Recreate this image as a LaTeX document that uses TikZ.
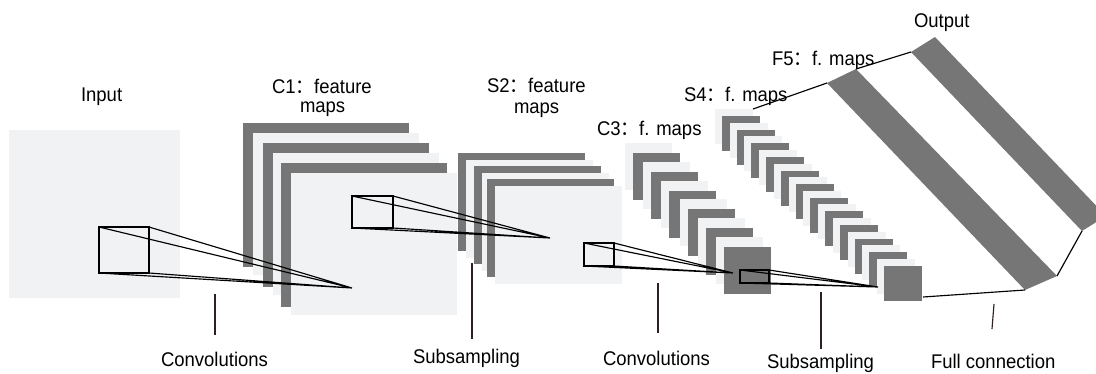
\documentclass[tikz,border=0pt]{standalone}
\usepackage{fontspec}
\setmainfont{Liberation Sans}
\newfontfamily\cjk{Noto Sans CJK SC}
\newcommand\fwc{{\cjk ：}}
\newcommand\tall[1]{\scalebox{1}[1.07]{#1}}
\definecolor{mapdark}{RGB}{118,118,118}
\definecolor{maplight}{RGB}{240,242,243}
\definecolor{tickcol}{RGB}{45,32,30}

% filled map sheet: #1 colour, (#2,#3) top-left corner, #4 x #5 size
\newcommand\sheet[5]{\fill[#1] (#2,#3) rectangle ++(#4,#5);}
% receptive field box with rays to its target point
\newcommand\rfield[7]{%
  \coordinate (#1nw) at (#2,#3);
  \coordinate (#1ne) at (#4,#3);
  \coordinate (#1sw) at (#2,#5);
  \coordinate (#1se) at (#4,#5);
  \coordinate (#1tip) at (#6,#7);
  \draw[field] (#1nw) rectangle (#1se);
  \draw[field] (#1nw) -- (#1tip) (#1ne) -- (#1tip) (#1sw) -- (#1tip) (#1se) -- (#1tip);
}

\begin{document}
\begin{tikzpicture}[x=1pt,y=-1pt,
  field/.style={draw=black,line width=1.15pt,line join=miter},
  link/.style={draw=black,line width=1.15pt},
  tick/.style={draw=tickcol,line width=1.15pt},
  lab/.style={anchor=base west,inner sep=0pt,outer sep=0pt,font=\fontsize{18.5}{20}\selectfont}]
\useasboundingbox (0,0) rectangle (1096,373);
\fill[white] (0,0) rectangle (1096,373);

% input plane
\sheet{maplight}{9}{130}{171}{168}

% C1 feature maps
\sheet{mapdark}{243}{123}{166}{144}
\sheet{maplight}{253}{133}{166}{142}
\sheet{mapdark}{263}{143}{166}{144}
\sheet{maplight}{273}{153}{166}{142}
\sheet{mapdark}{281}{163}{166}{144}
\sheet{maplight}{291}{173}{166}{142}

% S2 feature maps
\sheet{mapdark}{458}{153}{127}{98}
\sheet{maplight}{466}{160}{127}{98}
\sheet{mapdark}{474}{166}{127}{98}
\sheet{maplight}{482}{173}{127}{98}
\sheet{mapdark}{487}{179}{127}{98}
\sheet{maplight}{495}{186}{127}{98}

% C3 feature maps
\foreach \i in {0,...,5}{
  \pgfmathsetmacro\cx{633+18.2*\i}
  \pgfmathsetmacro\cy{153+18.8*\i}
  \sheet{maplight}{\cx-8}{\cy-10}{47}{47}
  \sheet{mapdark}{\cx}{\cy}{47}{47}
}

% S4 feature maps
\foreach \i in {0,...,11}{
  \pgfmathsetmacro\sx{722+14.73*\i}
  \pgfmathsetmacro\sy{116+13.64*\i}
  \sheet{maplight}{\sx-7}{\sy-7}{38}{35}
  \sheet{mapdark}{\sx}{\sy}{38}{35}
}

% F5 and output layers
\begin{scope}
  \clip (0,0) rectangle (1096,373);
  \coordinate (f5a) at (827,83);
  \coordinate (f5b) at (856,69);
  \coordinate (f5c) at (1057,276);
  \coordinate (f5d) at (1025,290);
  \fill[mapdark] (f5a) -- (f5b) -- (f5c) -- (f5d) -- cycle;
  \coordinate (outa) at (911,52);
  \coordinate (outb) at (935,37);
  \coordinate (outc) at (1106,216);
  \coordinate (outd) at (1082,231);
  \fill[mapdark] (outa) -- (outb) -- (outc) -- (outd) -- cycle;
\end{scope}

% receptive fields
\rfield{ra}{99}{227}{149}{273}{352}{288}
\rfield{rb}{352}{196}{393}{228}{550}{238}
\rfield{rc}{584}{243}{614}{266}{733}{273}
\rfield{rd}{740}{270}{769}{283}{878}{287}

% full connection outline
\coordinate (s4top) at (753,109);
\coordinate (s4end) at (923,297);
\draw[link] (s4top) -- (f5a);
\draw[link] (f5b) -- (outa);
\draw[link] (outd) -- (f5c);
\draw[link] (s4end) -- (f5d);

% pointer ticks
\coordinate (t1a) at (215,294); \coordinate (t1b) at (215,335);
\coordinate (t2a) at (472,263); \coordinate (t2b) at (472,339);
\coordinate (t3a) at (658,283); \coordinate (t3b) at (658,333);
\coordinate (t4a) at (821,292); \coordinate (t4b) at (821,349);
\coordinate (t5a) at (994,304); \coordinate (t5b) at (992,329);
\draw[tick] (t1a) -- (t1b);
\draw[tick] (t2a) -- (t2b);
\draw[tick] (t3a) -- (t3b);
\draw[tick] (t4a) -- (t4b);
\draw[tick] (t5a) -- (t5b);

% layer titles
\node[lab] (tin) at (81,101) {\tall{Input}};
\node[lab] (tc1) at (272,93) {\tall{C1\fwc feature}};
\node[lab] (tc1b) at (300,112) {\tall{maps}};
\node[lab] (ts2) at (487,92) {\tall{S2\fwc feature}};
\node[lab] (ts2b) at (514,113) {\tall{maps}};
\node[lab] (tc3) at (597,135) {\tall{C3\fwc f. maps}};
\node[lab] (ts4) at (684,101) {\tall{S4\fwc f. maps}};
\node[lab] (tf5) at (772,65) {\tall{F5\fwc f. maps}};
\node[lab] (tout) at (914,27) {\tall{Output}};

% operation captions
\node[lab] (op1) at (161,366) {\tall{Convolutions}};
\node[lab] (op2) at (413,363) {\tall{Subsampling}};
\node[lab] (op3) at (603,365) {\tall{Convolutions}};
\node[lab] (op4) at (767,368.5) {\tall{Subsampling}};
\node[lab] (op5) at (931,368.5) {\tall{Full connection}};
\end{tikzpicture}
\end{document}
